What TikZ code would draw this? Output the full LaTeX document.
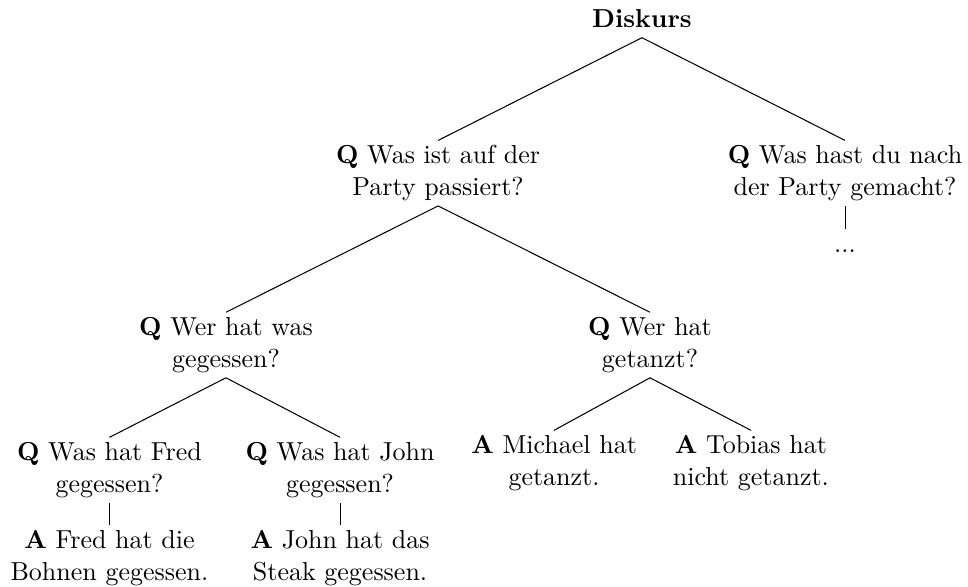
\documentclass[tikz,border=0pt]{standalone}
\begin{document}
\begin{tikzpicture}[x=1pt,y=1pt]
\tikzset{
  tn/.style={align=center, inner xsep=0pt, inner ysep=0pt, anchor=north,
             font={\fontsize{10}{12.4}\selectfont}},
  br/.style={draw=black, line width=0.4pt}
}
\useasboundingbox (0,0) rectangle (372.3,-225.4);
\node[tn] (D)    at (246.9,-1.7)   {\strut\textbf{Diskurs}\strut};
\node[tn] (Q1)   at (168.5,-54.0)  {\strut\textbf{Q} Was ist auf der\\Party passiert?\strut};
\node[tn] (Q2)   at (325.0,-54.0)  {\strut\textbf{Q} Was hast du nach\\der Party gemacht?\strut};
\node[tn] (dots) at (325.0,-88.2)  {\strut...\strut};
\node[tn] (Q11)  at (86.9,-120.1)  {\strut\textbf{Q} Wer hat was\\gegessen?\strut};
\node[tn] (Q12)  at (250.0,-120.1) {\strut\textbf{Q} Wer hat\\getanzt?\strut};
\node[tn] (Q111) at (42.1,-168.2)  {\strut\textbf{Q} Was hat Fred\\gegessen?\strut};
\node[tn] (Q112) at (130.8,-168.2) {\strut\textbf{Q} Was hat John\\gegessen?\strut};
\node[tn] (A121) at (213.1,-165.5) {\strut\textbf{A} Michael hat\\getanzt.\strut};
\node[tn] (A122) at (288.8,-165.5) {\strut\textbf{A} Tobias hat\\nicht getanzt.\strut};
\node[tn] (A111) at (42.1,-202.1)  {\strut\textbf{A} Fred hat die\\Bohnen gegessen.\strut};
\node[tn] (A112) at (130.8,-202.1) {\strut\textbf{A} John hat das\\Steak gegessen.\strut};
\draw[br] (D.south) -- (Q1.north);
\draw[br] (D.south) -- (Q2.north);
\draw[br] (Q2.south) -- (dots.north);
\draw[br] (Q1.south) -- (Q11.north);
\draw[br] (Q1.south) -- (Q12.north);
\draw[br] (Q11.south) -- (Q111.north);
\draw[br] (Q11.south) -- (Q112.north);
\draw[br] (Q12.south) -- (A121.north);
\draw[br] (Q12.south) -- (A122.north);
\draw[br] (Q111.south) -- (A111.north);
\draw[br] (Q112.south) -- (A112.north);
\end{tikzpicture}
\end{document}
